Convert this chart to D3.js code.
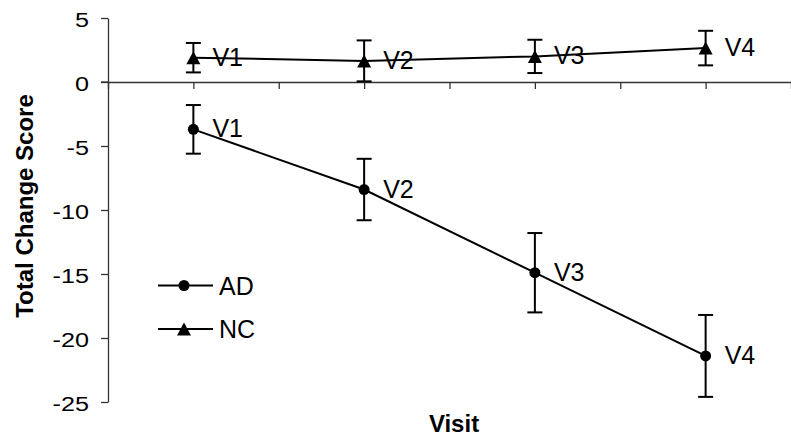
<!DOCTYPE html>
<html>
<head>
<meta charset="utf-8">
<script src="https://cdn.jsdelivr.net/npm/d3@7"></script>
<style>
  html, body { margin: 0; padding: 0; background: #fff; }
  svg { display: block; font-family: "Liberation Sans", Arial, Helvetica, sans-serif; }
</style>
</head>
<body>
<svg id="chart" width="791" height="440"></svg>
<script>
// Visits and their labels
const visits = [1, 2, 3, 4];
const visitLabels = ["V1", "V2", "V3", "V4"];

// Mean total change score and error-bar half widths per group
const adMean = [-3.7, -8.4, -14.9, -21.4];
const adErr  = [1.9, 2.4, 3.1, 3.2];
const ncMean = [1.9, 1.65, 2.0, 2.65];
const ncErr  = [1.15, 1.6, 1.3, 1.35];

// Axis ticks
const yTicks = [5, 0, -5, -10, -15, -20, -25];
const xTicks = [0.5, 1, 1.5, 2, 2.5, 3, 3.5, 4, 4.5];

const groups = [
  { name: "AD", mean: adMean, err: adErr, marker: "circle" },
  { name: "NC", mean: ncMean, err: ncErr, marker: "triangle" }
];

const svg = d3.select("#chart");
const x = d3.scaleLinear().domain([0.5, 4.5]).range([108, 791]);
const y = d3.scaleLinear().domain([-25, 5]).range([402, 18]);

const ink = "#000";
const axisInk = "#333";

// Y axis
const yAxis = svg.append("g")
  .attr("transform", `translate(${x(0.5)},0)`)
  .call(d3.axisLeft(y).tickValues(yTicks).tickSize(7).tickSizeOuter(0).tickFormat(d3.format("d")));
yAxis.select(".domain").attr("stroke", axisInk).attr("stroke-width", 1.3);
yAxis.selectAll(".tick line").attr("stroke", axisInk).attr("stroke-width", 1.3);
yAxis.selectAll(".tick text")
  .attr("x", 0)
  .attr("dy", "0.4em")
  .attr("transform", "translate(-19,0) scale(1.2,1)")
  .attr("text-anchor", "end")
  .attr("font-size", 21).attr("fill", ink)
  .attr("font-family", "'Liberation Sans', Arial, sans-serif")
  .text(d => d < 0 ? "-" + Math.abs(d) : d);

// X axis along zero
const xAxis = svg.append("g")
  .attr("transform", `translate(0,${y(0)})`)
  .call(d3.axisBottom(x).tickValues(xTicks).tickSize(7).tickSizeOuter(0).tickFormat(""));
xAxis.select(".domain").attr("stroke", axisInk).attr("stroke-width", 1.3);
xAxis.selectAll(".tick line").attr("stroke", axisInk).attr("stroke-width", 1.3);
// zero tick on the y axis extends left through the axis
svg.append("line")
  .attr("x1", x(0.5) - 7).attr("x2", x(0.5))
  .attr("y1", y(0)).attr("y2", y(0))
  .attr("stroke", axisInk).attr("stroke-width", 1.3);

// Triangle marker centred on its bounding box
function triPath(w, h) {
  return `M0,${-h / 2}L${w / 2},${h / 2}L${-w / 2},${h / 2}Z`;
}
function drawMarker(g, type) {
  if (type === "circle") {
    g.append("circle").attr("r", 5.5).attr("fill", ink);
  } else {
    g.append("path").attr("d", triPath(14, 13)).attr("fill", ink);
  }
}

const line = d3.line().x(d => x(d.v)).y(d => y(d.m));

groups.forEach(gr => {
  const pts = visits.map((v, i) => ({ v, m: gr.mean[i], e: gr.err[i], label: visitLabels[i] }));
  const g = svg.append("g");

  g.append("path")
    .datum(pts)
    .attr("d", line)
    .attr("fill", "none")
    .attr("stroke", ink)
    .attr("stroke-width", 2);

  // Error bars
  const eb = g.selectAll(".eb").data(pts).enter().append("g");
  eb.append("line")
    .attr("x1", d => x(d.v)).attr("x2", d => x(d.v))
    .attr("y1", d => y(d.m + d.e)).attr("y2", d => y(d.m - d.e))
    .attr("stroke", ink).attr("stroke-width", 2);
  [1, -1].forEach(s => {
    eb.append("line")
      .attr("x1", d => x(d.v) - 7.5).attr("x2", d => x(d.v) + 7.5)
      .attr("y1", d => y(d.m + s * d.e)).attr("y2", d => y(d.m + s * d.e))
      .attr("stroke", ink).attr("stroke-width", 2);
  });

  // Markers
  pts.forEach(d => {
    const m = g.append("g").attr("transform", `translate(${x(d.v)},${y(d.m)})`);
    drawMarker(m, gr.marker);
  });

  // Visit labels
  g.selectAll(".lbl").data(pts).enter().append("text")
    .attr("x", d => x(d.v) + 19)
    .attr("y", d => y(d.m) + 8)
    .attr("font-size", 25)
    .attr("fill", ink)
    .text(d => d.label);
});

// Legend
const legend = svg.append("g");
const legendRows = [
  { name: "AD", marker: "circle", yPos: 285.5 },
  { name: "NC", marker: "triangle", yPos: 329 }
];
legendRows.forEach(r => {
  legend.append("line")
    .attr("x1", 158).attr("x2", 213)
    .attr("y1", r.yPos).attr("y2", r.yPos)
    .attr("stroke", ink).attr("stroke-width", 2);
  const m = legend.append("g").attr("transform", `translate(184,${r.yPos})`);
  drawMarker(m, r.marker);
  legend.append("text")
    .attr("x", 219).attr("y", r.yPos + 9)
    .attr("font-size", 25).attr("fill", ink)
    .text(r.name);
});

// Axis titles
svg.append("text")
  .attr("x", 454).attr("y", 432)
  .attr("text-anchor", "middle")
  .attr("font-size", 24).attr("font-weight", "bold").attr("fill", ink)
  .text("Visit");

svg.append("text")
  .attr("transform", "translate(33,206) rotate(-90)")
  .attr("text-anchor", "middle")
  .attr("font-size", 24).attr("font-weight", "bold").attr("fill", ink)
  .text("Total Change Score");
</script>
</body>
</html>
